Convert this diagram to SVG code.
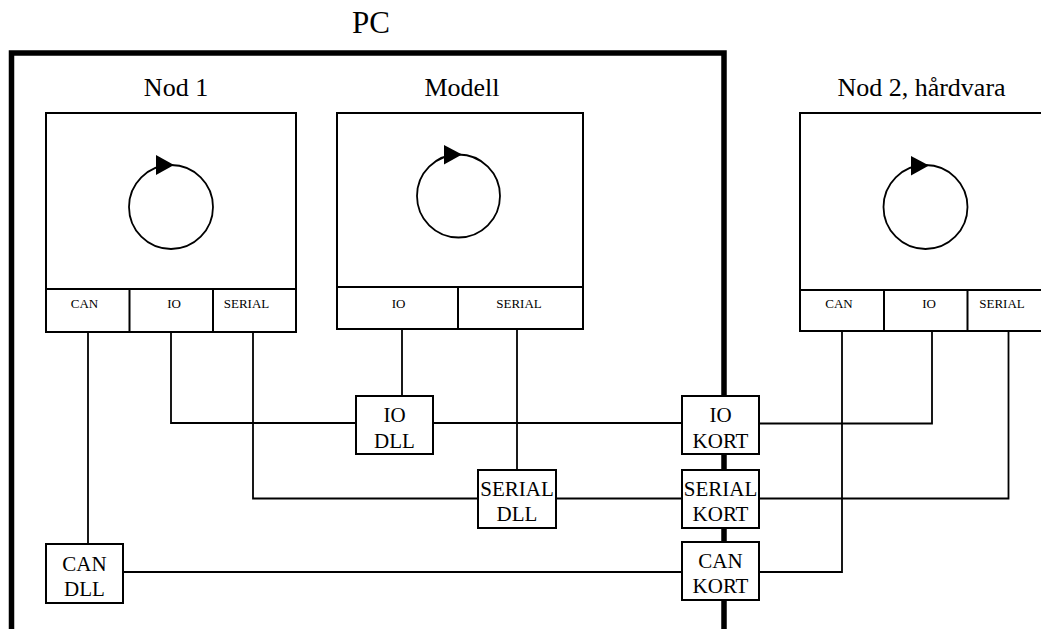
<svg xmlns="http://www.w3.org/2000/svg" width="1041" height="629" viewBox="0 0 1041 629">
<style>
.box{fill:#fff;stroke:#000;stroke-width:2}
.div{fill:none;stroke:#000;stroke-width:2}
.ln{fill:none;stroke:#000;stroke-width:1.8}
.loop{fill:none;stroke:#000;stroke-width:1.8}
.tri{fill:#000;stroke:none}
text{font-family:"Liberation Serif","Times New Roman",serif;fill:#000;text-anchor:middle}
.t1{font-size:31px}
.t2{font-size:26px}
.t3{font-size:13px}
.t4{font-size:21px}
</style>
<rect width="1041" height="629" fill="#fff"/>
<g id="pc">
<path d="M11.5 629 V53 H724 V629" fill="none" stroke="#000" stroke-width="5.5"/>
<text class="t1" x="371" y="33">PC</text>
</g>
<g id="connectors">
<path class="ln" d="M88 332 V544"/>
<path class="ln" d="M123 572 H682"/>
<path class="ln" d="M759 572 H842 V331"/>
<path class="ln" d="M171 332 V423 H356"/>
<path class="ln" d="M433 423 H682"/>
<path class="ln" d="M402 329 V396"/>
<path class="ln" d="M759 423.5 H932 V331"/>
<path class="ln" d="M253 332 V498.5 H478"/>
<path class="ln" d="M517 329 V470"/>
<path class="ln" d="M556 498.5 H682"/>
<path class="ln" d="M759 498.5 H1008.5 V331"/>
</g>
<g id="nod1">
<text class="t2" x="176" y="96">Nod 1</text>
<rect class="box" x="46" y="113" width="250" height="219"/>
<path class="div" d="M46 289 H296 M129.5 289 V332 M213 289 V332"/>
<circle class="loop" cx="171" cy="207" r="42"/>
<polygon class="tri" points="156,155 156,175 174,165"/>
<text class="t3" x="84.5" y="308">CAN</text>
<text class="t3" x="174" y="308">IO</text>
<text class="t3" x="246.5" y="308">SERIAL</text>
</g>
<g id="modell">
<text class="t2" x="462" y="96">Modell</text>
<rect class="box" x="337" y="113" width="246" height="216"/>
<path class="div" d="M337 287 H583 M458 287 V329"/>
<circle class="loop" cx="458.5" cy="196" r="41.5"/>
<polygon class="tri" points="444,145 444,164.5 462,154.5"/>
<text class="t3" x="398.5" y="308">IO</text>
<text class="t3" x="519" y="308">SERIAL</text>
</g>
<g id="nod2">
<text class="t2" x="921.5" y="96">Nod 2, hårdvara</text>
<rect class="box" x="800" y="113" width="260" height="218"/>
<path class="div" d="M800 290 H1060 M884 290 V331 M967.5 290 V331"/>
<circle class="loop" cx="925.5" cy="207" r="42"/>
<polygon class="tri" points="911,156 911,175.5 929,165.5"/>
<text class="t3" x="839" y="308">CAN</text>
<text class="t3" x="929" y="308">IO</text>
<text class="t3" x="1002" y="308">SERIAL</text>
</g>
<g id="io-dll">
<rect class="box" x="356" y="396" width="77" height="58"/>
<text class="t4" x="394.5" y="422">IO</text>
<text class="t4" x="394.5" y="448">DLL</text>
</g>
<g id="serial-dll">
<rect class="box" x="478" y="470" width="78" height="58"/>
<text class="t4" x="517" y="496">SERIAL</text>
<text class="t4" x="517" y="521">DLL</text>
</g>
<g id="can-dll">
<rect class="box" x="46" y="544" width="77" height="59"/>
<text class="t4" x="84.5" y="571">CAN</text>
<text class="t4" x="84.5" y="596">DLL</text>
</g>
<g id="io-kort">
<rect class="box" x="682" y="396" width="77" height="58"/>
<text class="t4" x="720.5" y="422">IO</text>
<text class="t4" x="720.5" y="448">KORT</text>
</g>
<g id="serial-kort">
<rect class="box" x="682" y="470" width="77" height="58"/>
<text class="t4" x="720.5" y="496">SERIAL</text>
<text class="t4" x="720.5" y="521">KORT</text>
</g>
<g id="can-kort">
<rect class="box" x="682" y="542" width="77" height="58"/>
<text class="t4" x="720.5" y="568">CAN</text>
<text class="t4" x="720.5" y="593">KORT</text>
</g>
</svg>
